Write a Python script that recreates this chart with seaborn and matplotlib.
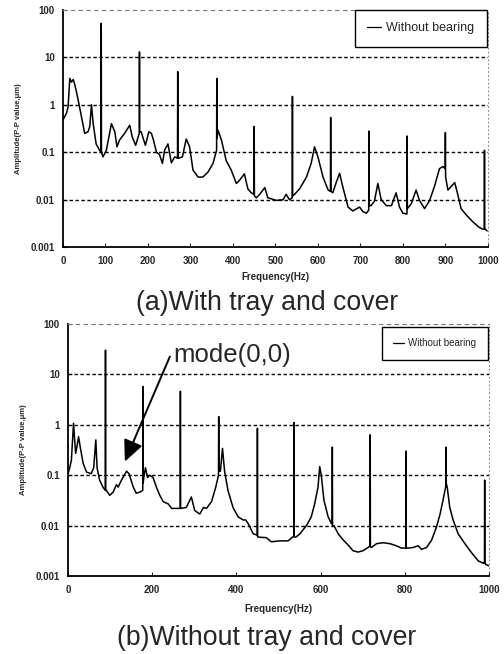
import numpy as np
import pandas as pd
import matplotlib
matplotlib.use("Agg")
import matplotlib.pyplot as plt
import seaborn as sns

# --- DATA ---
# (a) with tray and cover
freq_a = [0, 8, 12, 16, 20, 24, 27, 31, 39, 51,
          59, 63, 67, 71, 78, 86, 89.5, 90, 90.5, 94,
          102, 114, 122, 127, 133, 145, 157, 163, 171, 179.5,
          180, 180.5, 184, 190, 194, 202, 208, 213, 220, 227,
          234, 239, 247, 255, 263, 269.5, 270, 270.5, 275, 281,
          290, 298, 306, 318, 329, 341, 353, 361.5, 362, 362.5,
          365, 373, 384, 396, 408, 416, 427, 435, 443, 449.5,
          450, 450.5, 455, 463, 475, 482, 502, 518, 525, 533,
          539.5, 540, 540.5, 545, 557, 573, 584, 592, 600, 612,
          624, 629.5, 630, 630.5, 635, 643, 651, 659, 671, 682,
          698, 706, 714, 719.5, 720, 720.5, 725, 733, 741, 749,
          761, 773, 784, 792, 800, 809.5, 810, 810.5, 820, 831,
          839, 851, 863, 875, 886, 894, 899.5, 900, 900.5, 906,
          922, 929, 937, 949, 965, 980, 988, 991.5, 992, 992.5,
          998]
amp_a = [0.48, 0.66, 0.9, 3.6, 3.0, 3.4, 2.8, 2.0, 0.9, 0.25,
         0.27, 0.35, 1.0, 0.4, 0.15, 0.11, 0.1, 52, 0.1, 0.08,
         0.11, 0.4, 0.27, 0.13, 0.18, 0.25, 0.37, 0.21, 0.14, 0.25,
         13, 0.27, 0.27, 0.18, 0.14, 0.27, 0.25, 0.18, 0.1, 0.09,
         0.058, 0.11, 0.15, 0.06, 0.08, 0.075, 5.0, 0.075, 0.076, 0.08,
         0.19, 0.13, 0.042, 0.03, 0.03, 0.038, 0.058, 0.11, 3.6, 0.2,
         0.29, 0.18, 0.067, 0.042, 0.022, 0.026, 0.035, 0.017, 0.014, 0.013,
         0.35, 0.012, 0.011, 0.013, 0.018, 0.011, 0.0097, 0.01, 0.013, 0.01,
         0.011, 1.5, 0.012, 0.013, 0.017, 0.03, 0.058, 0.13, 0.08, 0.03,
         0.016, 0.015, 0.54, 0.015, 0.014, 0.023, 0.036, 0.018, 0.007, 0.0058,
         0.007, 0.0056, 0.0052, 0.006, 0.28, 0.0075, 0.0075, 0.0093, 0.022, 0.01,
         0.0075, 0.0075, 0.014, 0.007, 0.0052, 0.005, 0.22, 0.0065, 0.0083, 0.016,
         0.0097, 0.0065, 0.0097, 0.02, 0.045, 0.05, 0.045, 0.26, 0.03, 0.016,
         0.023, 0.013, 0.0065, 0.0048, 0.0034, 0.0026, 0.0024, 0.0024, 0.11, 0.0025,
         0.0022]

# (b) without tray and cover
freq_b = [0, 4, 8, 13, 18, 21, 25, 29, 36, 44,
          55, 61, 66, 69, 75, 83, 88.5, 89, 89.5, 91,
          99, 107, 115, 119, 127, 139, 145, 155, 162, 170,
          177.5, 178, 178.5, 180, 184, 189, 194, 202, 210, 218,
          226, 238, 246, 258, 266.5, 267, 267.5, 269, 281, 293,
          301, 313, 322, 329, 341, 351, 357.5, 358, 358.5, 362,
          367, 372, 380, 392, 404, 416, 422, 428, 440, 449.5,
          450, 450.5, 456, 471, 483, 503, 523, 533, 536.5, 537,
          537.5, 541, 551, 567, 578, 586, 594, 598, 602, 608,
          618, 626, 627.5, 628, 628.5, 632, 642, 654, 666, 677,
          689, 701, 713, 717.5, 718, 718.5, 721, 733, 749, 765,
          780, 792, 802.5, 803, 803.5, 808, 820, 832, 840, 852,
          864, 876, 884, 891, 897.5, 898, 898.5, 901, 907, 915,
          927, 943, 959, 975, 987, 989.5, 990, 990.5, 993, 1000]
amp_b = [0.107, 0.14, 0.2, 1.07, 0.27, 0.36, 0.58, 0.36, 0.17, 0.115,
         0.107, 0.14, 0.5, 0.14, 0.08, 0.058, 0.05, 30, 0.05, 0.05,
         0.04, 0.046, 0.065, 0.058, 0.08, 0.12, 0.107, 0.058, 0.044, 0.046,
         0.05, 5.7, 0.07, 0.09, 0.14, 0.09, 0.1, 0.09, 0.058, 0.04,
         0.03, 0.027, 0.022, 0.022, 0.022, 4.6, 0.022, 0.022, 0.023, 0.037,
         0.02, 0.017, 0.023, 0.022, 0.03, 0.058, 0.1, 1.45, 0.12, 0.12,
         0.34, 0.12, 0.05, 0.023, 0.015, 0.013, 0.013, 0.011, 0.0069, 0.0065,
         0.85, 0.006, 0.0059, 0.0058, 0.0048, 0.005, 0.005, 0.0059, 0.0062, 1.1,
         0.006, 0.0059, 0.0069, 0.0102, 0.015, 0.027, 0.058, 0.148, 0.097, 0.032,
         0.015, 0.011, 0.011, 0.36, 0.01, 0.01, 0.0069, 0.0052, 0.0041, 0.0032,
         0.003, 0.0032, 0.0037, 0.004, 0.63, 0.0038, 0.0037, 0.0044, 0.0046, 0.0044,
         0.004, 0.0036, 0.0036, 0.3, 0.0036, 0.0036, 0.0037, 0.004, 0.0034, 0.0037,
         0.0052, 0.0097, 0.017, 0.032, 0.06, 0.36, 0.07, 0.058, 0.023, 0.013,
         0.0069, 0.0044, 0.0029, 0.002, 0.0018, 0.0018, 0.08, 0.0018, 0.0017, 0.0016]

y_ticks = [0.001, 0.01, 0.1, 1, 10, 100]
y_tick_labels = ["0.001", "0.01", "0.1", "1", "10", "100"]
x_ticks_a = [0, 100, 200, 300, 400, 500, 600, 700, 800, 900, 1000]
x_ticks_b = [0, 200, 400, 600, 800, 1000]
series_name = "Without bearing"
captions = ["(a)With tray and cover", "(b)Without tray and cover"]

assert len(freq_a) == len(amp_a) and len(freq_b) == len(amp_b)

sns.set_style("ticks")
plt.rcParams["font.family"] = ["Liberation Sans", "DejaVu Sans"]

fig = plt.figure(figsize=(5.04, 6.54), dpi=100)
ax_a = fig.add_axes([0.125, 0.622, 0.843, 0.363])
ax_b = fig.add_axes([0.135, 0.119, 0.835, 0.386])


def draw_panel(ax, freq, amp, xticks, leg_size, leg_pad, leg_y, xlabelpad):
    df = pd.DataFrame({"Frequency": freq, "Amplitude": amp, "case": series_name})
    sns.lineplot(data=df, x="Frequency", y="Amplitude", hue="case",
                 palette=["black"], estimator=None, sort=False,
                 linewidth=1.1, ax=ax)
    ax.set_yscale("log")
    ax.set_xlim(0, 1000)
    ax.set_ylim(0.001, 100)
    ax.set_yticks(y_ticks)
    ax.set_yticklabels(y_tick_labels)
    ax.yaxis.set_minor_locator(matplotlib.ticker.NullLocator())
    ax.set_xticks(xticks)
    ax.set_xticklabels([str(t) for t in xticks])
    for v in y_ticks[1:-1]:
        ax.axhline(v, color="black", lw=1.0, ls=(0, (2.5, 1.8)), zorder=1)
    ax.tick_params(direction="in", length=3, width=0.8, labelsize=7, pad=6)
    for lab in ax.get_xticklabels() + ax.get_yticklabels():
        lab.set_fontweight("bold")
    for s in ["left", "bottom"]:
        ax.spines[s].set_linewidth(1.3)
        ax.spines[s].set_color("black")
    ax.spines["top"].set_visible(True)
    ax.spines["right"].set_visible(True)
    ax.spines["top"].set_linestyle((0, (3, 4)))
    ax.spines["top"].set_color("#777777")
    ax.spines["top"].set_linewidth(0.8)
    ax.spines["right"].set_linestyle((0, (1, 3)))
    ax.spines["right"].set_color("#888888")
    ax.spines["right"].set_linewidth(0.7)
    ax.set_xlabel("Frequency(Hz)", fontsize=7, fontweight="bold", labelpad=xlabelpad)
    ax.set_ylabel("Amplitude(P-P value,\u03bcm)", fontsize=5.5, fontweight="bold", labelpad=6)
    leg = ax.legend(loc="upper right", bbox_to_anchor=(0.997, leg_y), fontsize=leg_size,
                    handlelength=1.1, handletextpad=0.4, borderpad=leg_pad,
                    frameon=True, fancybox=False, framealpha=1, borderaxespad=0)
    leg.get_frame().set_edgecolor("black")
    leg.get_frame().set_linewidth(1.0)
    for h in leg.get_lines():
        h.set_linewidth(0.9)


draw_panel(ax_a, freq_a, amp_a, x_ticks_a, 9, 1.0, 1.0, 4.5)
draw_panel(ax_b, freq_b, amp_b, x_ticks_b, 7, 1.2, 0.988, 7)

# arrow and label for mode(0,0)
ax_b.annotate("", xy=(135, 0.186), xytext=(242, 22.4),
              arrowprops=dict(arrowstyle="-|>,head_length=1.3,head_width=0.6",
                              color="black", lw=1.4, shrinkA=0, shrinkB=0))
ax_b.text(250, 24, "mode(0,0)", fontsize=18.5, ha="left", va="center")

fig.text(267 / 504, 1 - 303 / 654, captions[0], fontsize=19.2, ha="center", va="center")
fig.text(267 / 504, 1 - 638 / 654, captions[1], fontsize=19.2, ha="center", va="center")

fig.savefig("out.png", dpi=100)
